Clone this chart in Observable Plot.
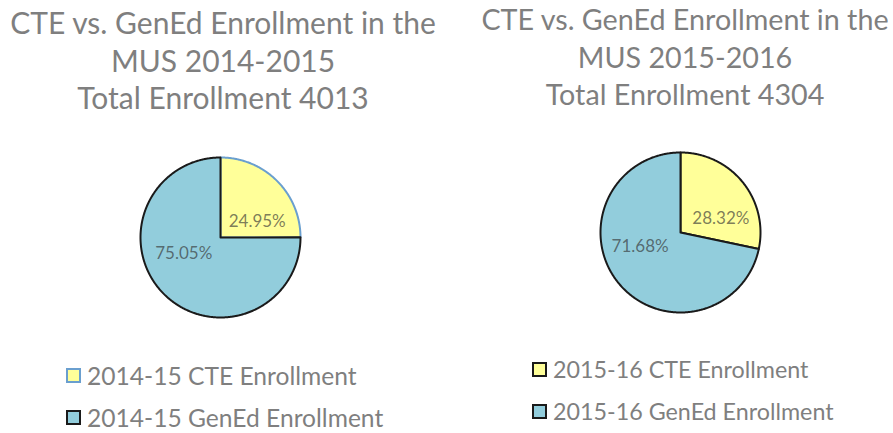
<!DOCTYPE html>
<html>
<head>
<meta charset="utf-8">
<script src="https://cdn.jsdelivr.net/npm/d3@7"></script>
<script src="https://cdn.jsdelivr.net/npm/@observablehq/plot@0.6"></script>
<style>
  body { margin: 0; background: #fff; }
  #root { position: relative; width: 893px; height: 433px; overflow: hidden; font-family: Lato, "Open Sans", sans-serif; color: #7f7f7f; }
  .title { position: absolute; text-align: center; line-height: 37.5px; white-space: nowrap; }
  .pie { position: absolute; }
  .legend { position: absolute; white-space: nowrap; }
  .legend .row { display: flex; align-items: center; height: 42px; }
  .legend .sw { width: 11px; height: 11px; border: 2px solid #1a1a1a; margin-right: 6px; flex: none; }
</style>
</head>
<body>
<div id="root"></div>
<script>
// ---- data ----
const years = ["2014-15", "2015-16"];
const yearTitles = ["2014-2015", "2015-2016"];
const totals = [4013, 4304];
const categories = ["CTE Enrollment", "GenEd Enrollment"];
const pct2014 = [24.95, 75.05];
const pct2015 = [28.32, 71.68];
const colors = ["#ffff99", "#92cddc"];

const root = document.getElementById("root");

function slicePoints(pcts) {
  const pts = [];
  const labels = [];
  let acc = 0;
  pcts.forEach((p, i) => {
    const a0 = acc / 100 * 2 * Math.PI;
    acc += p;
    const a1 = acc / 100 * 2 * Math.PI;
    const n = Math.max(2, Math.ceil((a1 - a0) / (Math.PI / 360)));
    pts.push({cat: categories[i], x: 0, y: 0});
    for (let k = 0; k <= n; k++) {
      const a = a0 + (a1 - a0) * k / n;
      pts.push({cat: categories[i], x: Math.sin(a), y: Math.cos(a)});
    }
    const m = (a0 + a1) / 2;
    labels.push({cat: categories[i], x: 0.65 * Math.sin(m), y: 0.28 * Math.cos(m), text: p.toFixed(2) + "%"});
  });
  return {pts, labels};
}

function pie(pcts, firstStroke) {
  const {pts, labels} = slicePoints(pcts);
  return Plot.plot({
    width: 200, height: 200,
    margin: 20,
    x: {domain: [-1, 1], axis: null},
    y: {domain: [-1, 1], axis: null},
    color: {domain: categories, range: colors},
    marks: [
      Plot.line(pts.filter(d => d.cat === categories[0]), {x: "x", y: "y", fill: "cat", stroke: firstStroke, strokeWidth: 2, curve: "linear-closed"}),
      Plot.line(pts.filter(d => d.cat === categories[1]), {x: "x", y: "y", fill: "cat", stroke: "#1a1a1a", strokeWidth: 2, curve: "linear-closed"}),
      Plot.text(labels, {x: "x", y: "y", text: "text", fill: "#333", fillOpacity: 0.65, fontSize: 17, fontFamily: "Lato, sans-serif"})
    ]
  });
}

const layouts = [
  {titleCenter: 223, titleTop: 4, titleSize: 30, pieLeft: 120, pieTop: 137, legLeft: 66, legTop: 354, legSize: 24.6, sw0: "#6a9fcf"},
  {titleCenter: 685, titleTop: 1, titleSize: 28.7, pieLeft: 580, pieTop: 132, legLeft: 532, legTop: 348, legSize: 23.3, sw0: "#1a1a1a"}
];

[pct2014, pct2015].forEach((pcts, i) => {
  const L = layouts[i];
  const t = document.createElement("div");
  t.className = "title";
  t.style.left = (L.titleCenter - 300) + "px";
  t.style.width = "600px";
  t.style.top = L.titleTop + "px";
  t.style.fontSize = L.titleSize + "px";
  t.innerHTML = `CTE vs. GenEd Enrollment in the<br>MUS ${yearTitles[i]}<br>Total Enrollment ${totals[i]}`;
  root.appendChild(t);

  const p = pie(pcts, i === 0 ? "#6a9fcf" : "#1a1a1a");
  p.classList.add("pie");
  p.style.left = L.pieLeft + "px";
  p.style.top = L.pieTop + "px";
  root.appendChild(p);

  const leg = document.createElement("div");
  leg.className = "legend";
  leg.style.left = L.legLeft + "px";
  leg.style.top = L.legTop + "px";
  leg.style.fontSize = L.legSize + "px";
  categories.forEach((c, j) => {
    const row = document.createElement("div");
    row.className = "row";
    const sw = document.createElement("span");
    sw.className = "sw";
    sw.style.background = colors[j];
    sw.style.borderColor = j === 0 ? L.sw0 : "#1a1a1a";
    const tx = document.createElement("span");
    tx.textContent = `${years[i]} ${c}`;
    row.appendChild(sw);
    row.appendChild(tx);
    leg.appendChild(row);
  });
  root.appendChild(leg);
});
</script>
</body>
</html>
